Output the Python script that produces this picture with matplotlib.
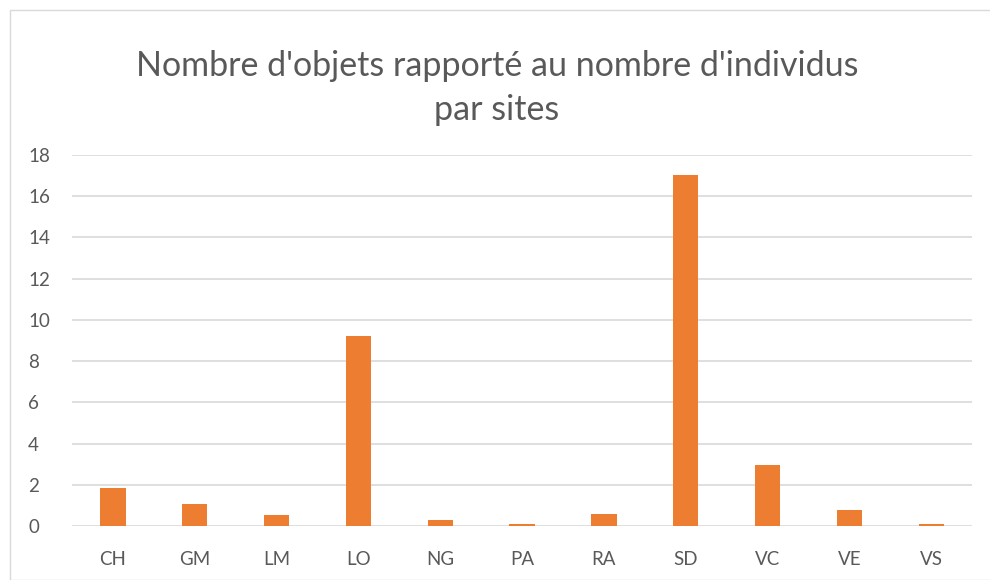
import matplotlib.pyplot as plt
from matplotlib.patches import Rectangle

sites = ['CH', 'GM', 'LM', 'LO', 'NG', 'PA', 'RA', 'SD', 'VC', 'VE', 'VS']
ratio = [1.84, 1.07, 0.53, 9.2, 0.29, 0.12, 0.57, 17.02, 2.95, 0.80, 0.08]
yticks = [0, 2, 4, 6, 8, 10, 12, 14, 16, 18]

plt.rcParams['font.family'] = ['Lato', 'DejaVu Sans']
txt = '#595959'

fig = plt.figure(figsize=(9.9, 5.8), dpi=100)
fig.patches.append(Rectangle((10/990, 0), 1, 1 - 10/580, transform=fig.transFigure,
                             fill=False, edgecolor='#d9d9d9', lw=1))
ax = fig.add_axes([0.0727, 0.0931, 0.9093, 0.6399])

x = range(len(sites))
ax.bar(x, ratio, width=0.31, color='#ED7D31', zorder=3)
ax.set_xlim(-0.5, len(sites) - 0.5)
ax.set_ylim(0, 18)
ax.set_yticks(yticks)
ax.set_xticks(list(x))
ax.set_xticklabels(sites)
ax.grid(axis='y', color='#d9d9d9', lw=1.2, zorder=0)
for s in ax.spines.values():
    s.set_visible(False)
ax.tick_params(length=0, labelsize=13.5, labelcolor=txt)
ax.tick_params(axis='x', pad=18)
ax.tick_params(axis='y', pad=31.5)
for lab in ax.get_yticklabels():
    lab.set_horizontalalignment('left')

fig.text(0.502, 1 - 88/580, "Nombre d'objets rapporté au nombre d'individus\npar sites",
         ha='center', va='center', fontsize=24.5, color=txt, linespacing=1.5)

fig.savefig('out.png', dpi=100)
